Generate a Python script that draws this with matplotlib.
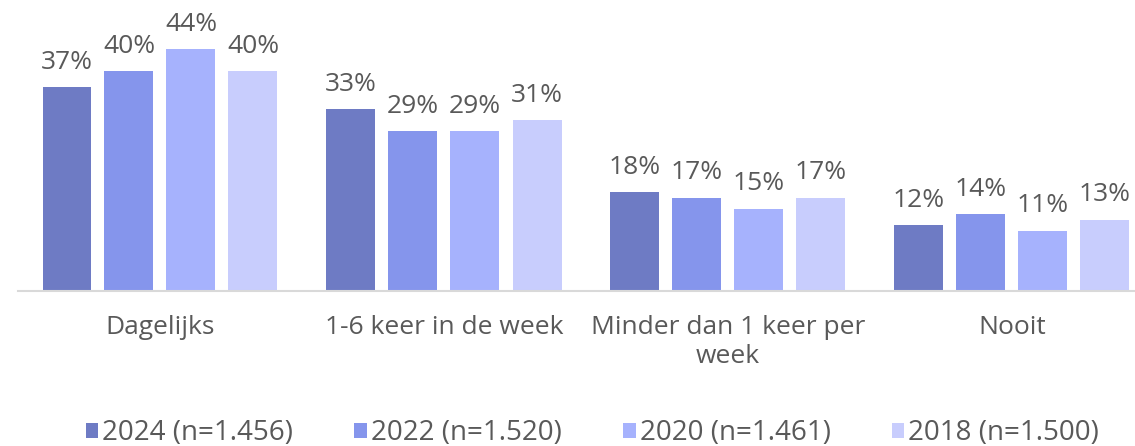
#grouped bar chart of how often, per survey year

import numpy as np
import matplotlib.pyplot as plt

plt.rcParams['font.family'] = ['Open Sans', 'DejaVu Sans']

categories = ["Dagelijks", "1-6 keer in de week", "Minder dan 1 keer per\nweek", "Nooit"]
series_names = ["2024 (n=1.456)", "2022 (n=1.520)", "2020 (n=1.461)", "2018 (n=1.500)"]
values_2024 = [37, 33, 18, 12]
values_2022 = [40, 29, 17, 14]
values_2020 = [44, 29, 15, 11]
values_2018 = [40, 31, 17, 13]
colors = ["#6E7BC4", "#8595EC", "#A6B2FD", "#C8CDFD"]

all_values = [values_2024, values_2022, values_2020, values_2018]
text_color = "#595959"

fig = plt.figure(figsize=(11.35, 4.46), dpi=100)
ax = fig.add_axes([18 / 1135, 1 - 291 / 446, 1 - 18 / 1135, 291 / 446])

x = np.arange(len(categories))
step = 62 / 284
width = 49 / 284
for i, (vals, name, col) in enumerate(zip(all_values, series_names, colors)):
    pos = x + (i - 1.5) * step
    bars = ax.bar(pos, vals, width, color=col, label=name)
    for b, v in zip(bars, vals):
        ax.text(b.get_x() + b.get_width() / 2, v + 2.2, f"{v}%", ha="center", va="bottom",
                fontsize=19, color=text_color, clip_on=False)

ax.set_xlim(-0.5, 3.5 - 19 / 284)
ax.set_ylim(0, 291 / 5.5)
ax.set_yticks([])
ax.set_xticks(x)
ax.set_xticklabels(categories, fontsize=19, color=text_color, linespacing=1.25)
ax.tick_params(axis="x", length=0, pad=17)
for s in ["top", "right", "left"]:
    ax.spines[s].set_visible(False)
ax.spines["bottom"].set_color("#D9D9D9")
ax.spines["bottom"].set_linewidth(1.5)

fig.legend(loc="center", bbox_to_anchor=(0.522, 1 - 433 / 446), ncol=4, frameon=False,
           fontsize=20, labelcolor=text_color, handlelength=0.45, handleheight=0.45,
           handletextpad=0.15, columnspacing=2.2)

plt.savefig("out.png", dpi=100)
